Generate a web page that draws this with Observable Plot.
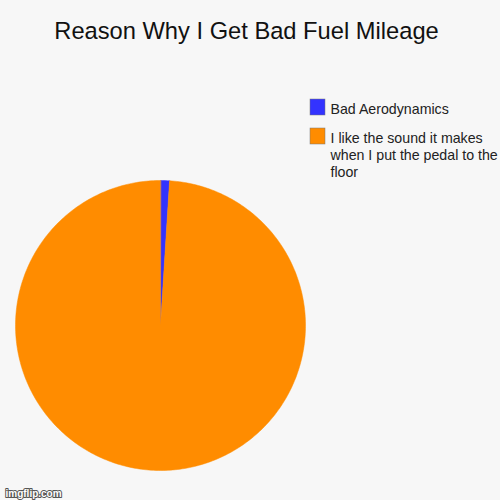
<!DOCTYPE html>
<html><head><meta charset="utf-8">
<script src="https://cdn.jsdelivr.net/npm/d3@7"></script>
<script src="https://cdn.jsdelivr.net/npm/@observablehq/plot@0.6"></script>
<style>html,body{margin:0;padding:0;background:#f7f7f7;}svg{display:block;}</style>
</head><body><div id="chart"></div>
<script>
const title = "Reason Why I Get Bad Fuel Mileage";
const categories = ["Bad Aerodynamics", "I like the sound it makes when I put the pedal to the floor"];
const values = [1, 99];
const colors = ["#3333ff", "#ff8c00"];

const cx = 160, cy = 325, r = 145;
const arcs = d3.pie().sort(null).value(d => d)(values);
const slicePts = [];
arcs.forEach((a, i) => {
  slicePts.push({k: i, x: cx, y: cy});
  const n = Math.max(2, Math.ceil((a.endAngle - a.startAngle) * 60));
  for (let j = 0; j <= n; j++) {
    const t = a.startAngle + (a.endAngle - a.startAngle) * j / n;
    slicePts.push({k: i, x: cx + r * Math.sin(t), y: cy - r * Math.cos(t)});
  }
});
const legend = categories.map((c, i) => ({c, i, y: i === 0 ? 107 : 136}));

const marks = [];
arcs.forEach((a, i) => {
  marks.push(Plot.line(slicePts.filter(p => p.k === i), {x: "x", y: "y", fill: colors[i], stroke: colors[i], strokeWidth: 0.5, curve: "linear-closed"}));
});
marks.push(
  Plot.rect(legend, {x1: 310, x2: 325, y1: d => d.y - 8, y2: d => d.y + 8, fill: d => colors[d.i], stroke: "#777", strokeWidth: 0.5}),
  Plot.text(legend, {x: 330, y: d => d.y, text: "c", textAnchor: "start", lineAnchor: "top", dy: -5.5, fontSize: 14.2, lineHeight: 1.2, lineWidth: 13.4, fill: "#222"}),
  Plot.text([title], {x: 246, y: 31, text: d => d, fontSize: 23.7, fill: "#111"}),
  Plot.text(["imgflip.com"], {x: 5, y: 493, text: d => d, textAnchor: "start", fontSize: 10, fontWeight: "bold", fill: "white", stroke: "#555", strokeWidth: 2, paintOrder: "stroke"})
);

const chart = Plot.plot({
  width: 500, height: 500, margin: 0,
  style: {background: "#f7f7f7", fontFamily: "Liberation Sans, Arial, sans-serif"},
  x: {domain: [0, 500], range: [0, 500], axis: null},
  y: {domain: [0, 500], range: [0, 500], axis: null},
  marks
});
document.getElementById("chart").appendChild(chart);
</script></body></html>
